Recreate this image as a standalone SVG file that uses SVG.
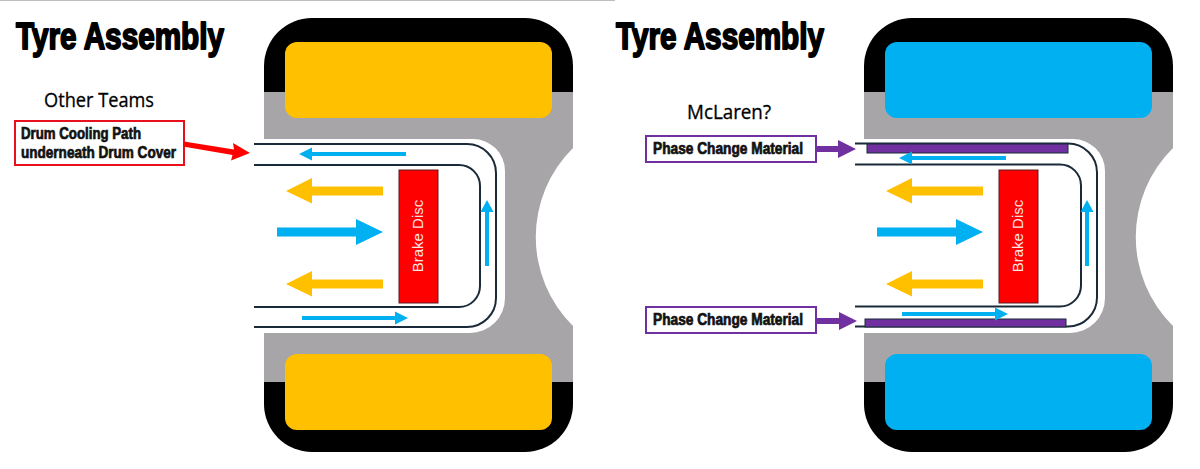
<svg xmlns="http://www.w3.org/2000/svg" xmlns:xlink="http://www.w3.org/1999/xlink" width="1200" height="469" viewBox="0 0 1200 469">
<style>
.gray{fill:#a7a5a8}.blk{fill:#000}
.yel{fill:#ffc000}.blu{fill:#00b0f0}.pur{fill:#7030a0}.red{fill:#f00}
.pipe{fill:none;stroke:#1b2a38;stroke-width:2}
.disc{fill:#f00;stroke:#5a1a20;stroke-width:1}
.disct{font:15px "Liberation Sans",Arial,sans-serif;fill:#ffe4e4;text-anchor:middle}
.title{font:bold 37px "Liberation Sans",Arial,sans-serif;fill:#000;stroke:#000;stroke-width:1.9;stroke-linejoin:round}
.sub{font:20px "Open Sans","Noto Sans",sans-serif;fill:#000;stroke:#000;stroke-width:.3}
.lab{font:bold 16px "Liberation Sans",Arial,sans-serif;fill:#111;stroke:#111;stroke-width:.7}
.boxr{fill:#fff;stroke:#e8101c;stroke-width:2}
.boxp{fill:#fff;stroke:#7030a0;stroke-width:2}
.pcm{fill:#7030a0;stroke:#1b2a38;stroke-width:1}
</style>
<defs>
<g id="body">
<path class="gray" d="M264,92H573V148A125,125 0 0 0 573,326V382H264V333H470A35,35 0 0 0 505,298V171A32,32 0 0 0 473,139H264Z"/>
<path class="blk" d="M264,92V66A48,48 0 0 1 312,18H525A48,48 0 0 1 573,66V92Z"/>
<path class="blk" d="M264,382V404A48,48 0 0 0 312,452H525A48,48 0 0 0 573,404V382Z"/>
</g>
<path id="pipes" class="pipe" d="M254,144H467A29,29 0 0 1 496,173V298A29,29 0 0 1 467,327H254M254,165H459A21,21 0 0 1 480,186V286A21,21 0 0 1 459,307H254"/>
<path id="bigL" d="M383,186.500H312V178L286,191L312,203.500V195.500H383Z"/>
<path id="bigR" d="M277,227.500H356V219L383,232L356,245V236.500H277Z"/>
<path id="smallL" d="M406,152H312V147.500L299,154L312,160.500V156H406Z"/>
<path id="smallR" d="M302,316H395V311.500L408,318L395,324.500V320H302Z"/>
<path id="smallU" d="M485,266V212H480.500L487,200L493.500,212H489V266Z"/>
<g id="disc">
<rect class="disc" x="399" y="170" width="39" height="133"/>
<text class="disct" transform="translate(423,236) rotate(-90)">Brake Disc</text>
</g>
</defs>
<rect width="1200" height="469" fill="#fff"/>
<rect width="615" height="1" fill="#bdbdbd"/>

<g id="wheel-left">
<use xlink:href="#body"/>
<rect class="yel" x="285" y="42" width="267" height="76" rx="12"/>
<rect class="yel" x="285" y="354" width="267" height="76" rx="12"/>
<use xlink:href="#pipes"/>
<use xlink:href="#disc"/>
</g>
<g id="flow-left">
<use xlink:href="#bigL" class="yel"/>
<use xlink:href="#bigL" class="yel" y="93"/>
<use xlink:href="#bigR" class="blu"/>
<use xlink:href="#smallL" class="blu"/>
<use xlink:href="#smallR" class="blu"/>
<use xlink:href="#smallU" class="blu"/>
</g>
<g id="title-left"><text class="title" x="16" y="49" textLength="208" lengthAdjust="spacingAndGlyphs">Tyre Assembly</text></g>
<g id="heading-left"><text class="sub" x="44" y="107" textLength="110" lengthAdjust="spacingAndGlyphs">Other Teams</text></g>
<g id="label-drum">
<rect class="boxr" x="15" y="121" width="169" height="44"/>
<text class="lab" x="21" y="139" textLength="120" lengthAdjust="spacingAndGlyphs">Drum Cooling Path</text>
<text class="lab" x="21" y="158" textLength="155" lengthAdjust="spacingAndGlyphs">underneath Drum Cover</text>
</g>

<g id="wheel-right" transform="translate(600 0)">
<use xlink:href="#body"/>
<rect class="blu" x="285" y="42" width="267" height="76" rx="12"/>
<rect class="blu" x="285" y="354" width="267" height="76" rx="12"/>
<use xlink:href="#pipes" x="1" y="-0.500"/>
<use xlink:href="#disc"/>
</g>
<g id="pcm-strips">
<rect class="pcm" x="867" y="144" width="201" height="9"/>
<rect class="pcm" x="865" y="319" width="201" height="8"/>
</g>
<g id="flow-right" transform="translate(600 0)">
<use xlink:href="#bigL" class="yel"/>
<use xlink:href="#bigL" class="yel" y="93"/>
<use xlink:href="#bigR" class="blu"/>
<use xlink:href="#smallL" class="blu" y="4"/>
<use xlink:href="#smallR" class="blu" y="-4"/>
<use xlink:href="#smallU" class="blu"/>
</g>
<g id="title-right"><text class="title" x="616" y="49" textLength="208" lengthAdjust="spacingAndGlyphs">Tyre Assembly</text></g>
<g id="heading-right"><text class="sub" x="687" y="119" textLength="84" lengthAdjust="spacingAndGlyphs">McLaren?</text></g>
<g id="label-pcm-top">
<rect class="boxp" x="646" y="136" width="170" height="26"/>
<text class="lab" x="653" y="154" textLength="150" lengthAdjust="spacingAndGlyphs">Phase Change Material</text>
</g>
<g id="label-pcm-bottom">
<rect class="boxp" x="646" y="307" width="170" height="26"/>
<text class="lab" x="653" y="325" textLength="150" lengthAdjust="spacingAndGlyphs">Phase Change Material</text>
</g>
<g id="connectors">
<path class="red" d="M184,141.500L234,149.500L233,143L250,153L231,160.500L232.500,155L183,146.500Z"/>
<path class="pur" d="M816,146H838V140L856,149L838,158V152H816Z"/>
<path class="pur" d="M816,318H839V312L857,321L839,330V324H816Z"/>
</g>
</svg>
